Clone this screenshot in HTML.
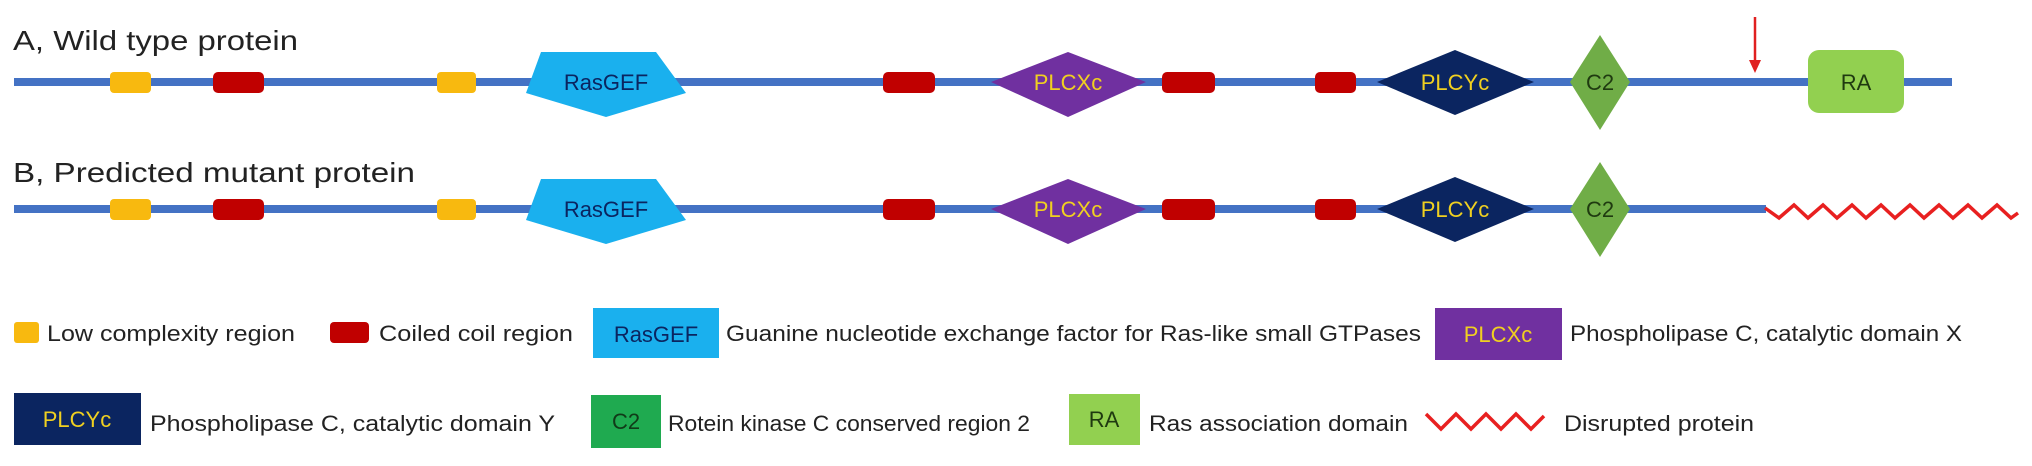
<!DOCTYPE html>
<html><head><meta charset="utf-8"><style>
html,body{margin:0;padding:0;background:#fff;}
svg{display:block;font-family:"Liberation Sans",Arial,sans-serif;}
</style></head><body>
<svg width="2032" height="466" viewBox="0 0 2032 466" xmlns="http://www.w3.org/2000/svg">
<defs>
<g id="row">
  <rect x="14" y="-4" width="1938" height="8" fill="#4472c4"/>
  <rect x="110" y="-10" width="41" height="21" rx="4" fill="#f8b90f"/>
  <rect x="213" y="-10" width="51" height="21" rx="5" fill="#c00000"/>
  <rect x="437" y="-10" width="39" height="21" rx="4" fill="#f8b90f"/>
  <polygon points="541,-30 656,-30 686,11 606,35 526,11" fill="#1ab0ee"/>
  <text x="606" y="8" font-size="22" text-anchor="middle" fill="#0b2560">RasGEF</text>
  <rect x="883" y="-10" width="52" height="21" rx="5" fill="#c00000"/>
  <polygon points="991,0 1068,-30 1146,0 1068,35" fill="#7030a0"/>
  <text x="1068" y="8" font-size="22" text-anchor="middle" fill="#f0d020">PLCXc</text>
  <rect x="1162" y="-10" width="53" height="21" rx="5" fill="#c00000"/>
  <rect x="1315" y="-10" width="41" height="21" rx="5" fill="#c00000"/>
  <polygon points="1377,0 1455,-32 1534,0 1455,33" fill="#0b2560"/>
  <text x="1455" y="8" font-size="22" text-anchor="middle" fill="#f0d020">PLCYc</text>
  <polygon points="1570,0 1600,-47 1630,0 1600,48" fill="#70ad47"/>
  <text x="1600" y="8" font-size="22" text-anchor="middle" fill="#1f3a10">C2</text>
</g>
</defs>
<text x="13" y="50" font-size="28" fill="#222" textLength="285" lengthAdjust="spacingAndGlyphs">A, Wild type protein</text>
<use href="#row" y="82"/>
<rect x="1808" y="50" width="96" height="63" rx="11" fill="#92d050"/>
<text x="1856" y="90" font-size="22" text-anchor="middle" fill="#1f3a10">RA</text>
<line x1="1755" y1="17" x2="1755" y2="62" stroke="#e02020" stroke-width="2.5"/>
<polygon points="1749,60 1761,60 1755,73" fill="#e02020"/>

<text x="13" y="182" font-size="28" fill="#222" textLength="402" lengthAdjust="spacingAndGlyphs">B, Predicted mutant protein</text>
<g>
<use href="#row" y="209"/>
<rect x="1766" y="200" width="270" height="20" fill="#fff"/>
</g>
<polyline points="1765,208 1779,218 1794,205 1808,218 1823,205 1837,218 1852,205 1866,218 1881,205 1895,218 1910,205 1924,218 1939,205 1953,218 1968,205 1982,218 1997,205 2011,218 2018,213" fill="none" stroke="#e82020" stroke-width="3.5" stroke-linejoin="miter"/>

<!-- legend row 1 -->
<rect x="14" y="322" width="25" height="21" rx="3" fill="#f8b90f"/>
<text x="47" y="341" font-size="22" fill="#222" textLength="248" lengthAdjust="spacingAndGlyphs">Low complexity region</text>
<rect x="330" y="322" width="39" height="21" rx="4" fill="#c00000"/>
<text x="379" y="341" font-size="22" fill="#222" textLength="194" lengthAdjust="spacingAndGlyphs">Coiled coil region</text>
<rect x="593" y="308" width="126" height="50" fill="#1ab0ee"/>
<text x="656" y="342" font-size="22" text-anchor="middle" fill="#0b2560">RasGEF</text>
<text x="726" y="341" font-size="22" fill="#222" textLength="695" lengthAdjust="spacingAndGlyphs">Guanine nucleotide exchange factor for Ras-like small GTPases</text>
<rect x="1435" y="308" width="127" height="52" fill="#7030a0"/>
<text x="1498" y="342" font-size="22" text-anchor="middle" fill="#f0d020">PLCXc</text>
<text x="1570" y="341" font-size="22" fill="#222" textLength="392" lengthAdjust="spacingAndGlyphs">Phospholipase C, catalytic domain X</text>

<!-- legend row 2 -->
<rect x="14" y="393" width="127" height="52" fill="#0b2560"/>
<text x="77" y="427" font-size="22" text-anchor="middle" fill="#f0d020">PLCYc</text>
<text x="150" y="431" font-size="22" fill="#222" textLength="405" lengthAdjust="spacingAndGlyphs">Phospholipase C, catalytic domain Y</text>
<rect x="591" y="395" width="70" height="53" fill="#1faa50"/>
<text x="626" y="429" font-size="22" text-anchor="middle" fill="#103a18">C2</text>
<text x="668" y="431" font-size="22" fill="#222" textLength="362" lengthAdjust="spacingAndGlyphs">Rotein kinase C conserved region 2</text>
<rect x="1069" y="394" width="71" height="51" fill="#92d050"/>
<text x="1104" y="427" font-size="22" text-anchor="middle" fill="#1f3a10">RA</text>
<text x="1149" y="431" font-size="22" fill="#222" textLength="259" lengthAdjust="spacingAndGlyphs">Ras association domain</text>
<polyline points="1426,414 1441,429 1456,414 1471,429 1486,414 1501,429 1516,414 1531,429 1544,416" fill="none" stroke="#e82020" stroke-width="3.5"/>
<text x="1564" y="431" font-size="22" fill="#222" textLength="190" lengthAdjust="spacingAndGlyphs">Disrupted protein</text>
</svg>
</body></html>
